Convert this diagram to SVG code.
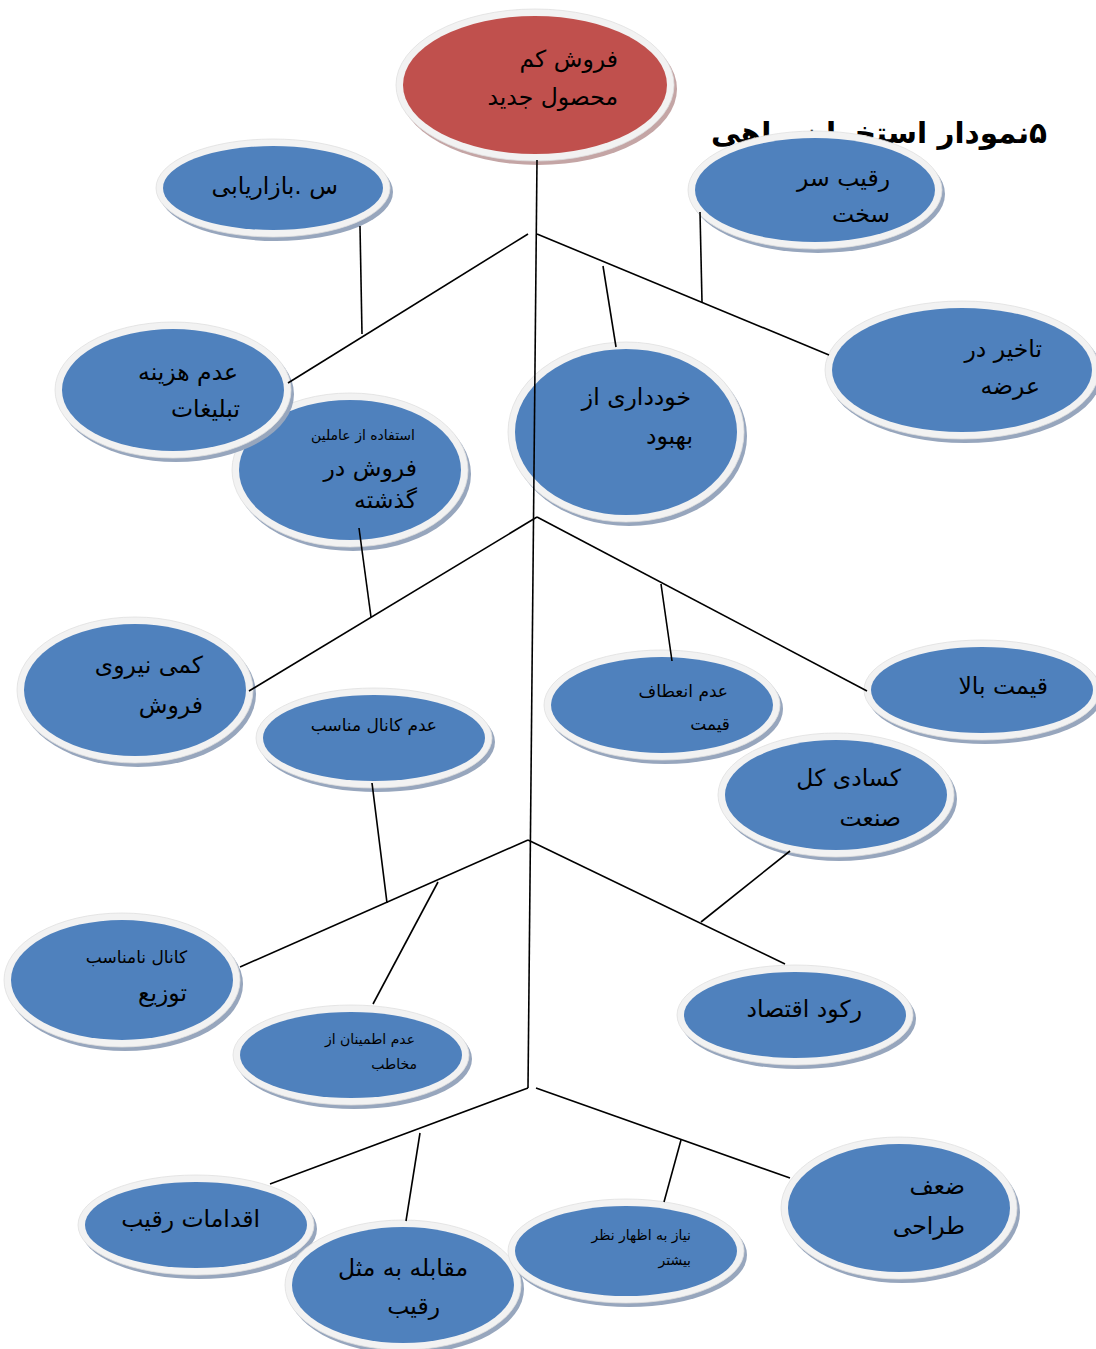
<svg xmlns="http://www.w3.org/2000/svg" width="1096" height="1349" viewBox="0 0 1096 1349">
<style>
  .sh { fill: #97a6bd; }
  .ring { fill: #f2f2f2; stroke: #e0e0e0; stroke-width: 0.8; }
  .blue { fill: #4f81bd; }
  .red { fill: #c0504d; }
  .shr { fill: #c4a5a5; }
  text { font-family: "DejaVu Sans", sans-serif; fill: #000; text-anchor: end; }
  .t22 { font-size: 23.5px; }
  .t18 { font-size: 17px; }
  .t14 { font-size: 14px; }
  .title { font-size: 29.5px; font-weight: bold; }
  .conn line { stroke: #000; stroke-width: 1.6; fill: none; }
</style>
<rect x="0" y="0" width="1096" height="1349" fill="#ffffff"/>

<g id="title">
  <text class="title" x="1047" y="143">&#x200F;&#x06F5;نمودار استخوان ماهی</text>
</g>

<g id="n-root">
  <ellipse class="shr" cx="538" cy="89" rx="139" ry="76"/>
  <ellipse class="ring" cx="535" cy="85" rx="139" ry="76"/>
  <ellipse class="red" cx="535" cy="85" rx="132" ry="69"/>
  <text class="t22" x="618" y="67">فروش کم</text>
  <text class="t22" x="618" y="105">محصول جدید</text>
</g>

<g id="n-bazaryabi">
  <ellipse class="sh" cx="276" cy="192" rx="117" ry="49"/>
  <ellipse class="ring" cx="273" cy="188" rx="117" ry="49"/>
  <ellipse class="blue" cx="273" cy="188" rx="110" ry="42"/>
  <text class="t22" x="338" y="194">س .بازاریابی</text>
</g>

<g id="n-raqib">
  <ellipse class="sh" cx="818" cy="194" rx="127" ry="59"/>
  <ellipse class="ring" cx="815" cy="190" rx="127" ry="59"/>
  <ellipse class="blue" cx="815" cy="190" rx="120" ry="52"/>
  <text class="t22" x="890" y="186">رقیب سر</text>
  <text class="t22" x="890" y="222">سخت</text>
</g>

<g id="n-estefade">
  <ellipse class="sh" cx="353" cy="474" rx="118" ry="77"/>
  <ellipse class="ring" cx="350" cy="470" rx="118" ry="77"/>
  <ellipse class="blue" cx="350" cy="470" rx="111" ry="70"/>
  <text class="t14" x="415" y="440">استفاده از عاملین</text>
  <text class="t22" x="417" y="476">فروش  در</text>
  <text class="t22" x="417" y="508">گذشته</text>
</g>

<g id="n-hazine">
  <ellipse class="sh" cx="176" cy="394" rx="118" ry="68"/>
  <ellipse class="ring" cx="173" cy="390" rx="118" ry="68"/>
  <ellipse class="blue" cx="173" cy="390" rx="111" ry="61"/>
  <text class="t22" x="238" y="380">عدم هزینه</text>
  <text class="t22" x="240" y="417">تبلیغات</text>
</g>

<g id="n-khoddari">
  <ellipse class="sh" cx="629" cy="436" rx="118" ry="90"/>
  <ellipse class="ring" cx="626" cy="432" rx="118" ry="90"/>
  <ellipse class="blue" cx="626" cy="432" rx="111" ry="83"/>
  <text class="t22" x="691" y="405">خودداری از</text>
  <text class="t22" x="693" y="444">بهبود</text>
</g>

<g id="n-takhir">
  <ellipse class="sh" cx="965" cy="374" rx="137" ry="69"/>
  <ellipse class="ring" cx="962" cy="370" rx="137" ry="69"/>
  <ellipse class="blue" cx="962" cy="370" rx="130" ry="62"/>
  <text class="t22" x="1042" y="357">تاخیر در</text>
  <text class="t22" x="1040" y="394">عرضه</text>
</g>

<g id="n-kami">
  <ellipse class="sh" cx="138" cy="694" rx="118" ry="73"/>
  <ellipse class="ring" cx="135" cy="690" rx="118" ry="73"/>
  <ellipse class="blue" cx="135" cy="690" rx="111" ry="66"/>
  <text class="t22" x="203" y="673">کمی نیروی</text>
  <text class="t22" x="203" y="713">فروش</text>
</g>

<g id="n-kanal">
  <ellipse class="sh" cx="377" cy="742" rx="118" ry="50"/>
  <ellipse class="ring" cx="374" cy="738" rx="118" ry="50"/>
  <ellipse class="blue" cx="374" cy="738" rx="111" ry="43"/>
  <text class="t18" x="437" y="731">عدم کانال مناسب</text>
</g>

<g id="n-enetaf">
  <ellipse class="sh" cx="665" cy="709" rx="118" ry="55"/>
  <ellipse class="ring" cx="662" cy="705" rx="118" ry="55"/>
  <ellipse class="blue" cx="662" cy="705" rx="111" ry="48"/>
  <text class="t18" x="728" y="697">عدم انعطاف</text>
  <text class="t18" x="730" y="730">قیمت</text>
</g>

<g id="n-gheimat">
  <ellipse class="sh" cx="985" cy="694" rx="118" ry="50"/>
  <ellipse class="ring" cx="982" cy="690" rx="118" ry="50"/>
  <ellipse class="blue" cx="982" cy="690" rx="111" ry="43"/>
  <text class="t22" x="1048" y="694">قیمت بالا</text>
</g>

<g id="n-kasadi">
  <ellipse class="sh" cx="839" cy="799" rx="118" ry="62"/>
  <ellipse class="ring" cx="836" cy="795" rx="118" ry="62"/>
  <ellipse class="blue" cx="836" cy="795" rx="111" ry="55"/>
  <text class="t22" x="901" y="786">کسادی کل</text>
  <text class="t22" x="901" y="826">صنعت</text>
</g>

<g id="n-namonaseb">
  <ellipse class="sh" cx="125" cy="984" rx="118" ry="67"/>
  <ellipse class="ring" cx="122" cy="980" rx="118" ry="67"/>
  <ellipse class="blue" cx="122" cy="980" rx="111" ry="60"/>
  <text class="t18" x="187" y="963">کانال نامناسب</text>
  <text class="t22" x="187" y="1001">توزیع</text>
</g>

<g id="n-etminan">
  <ellipse class="sh" cx="354" cy="1059" rx="118" ry="50"/>
  <ellipse class="ring" cx="351" cy="1055" rx="118" ry="50"/>
  <ellipse class="blue" cx="351" cy="1055" rx="111" ry="43"/>
  <text class="t14" x="415" y="1044">عدم اطمینان از</text>
  <text class="t14" x="417" y="1069">مخاطب</text>
</g>

<g id="n-rokud">
  <ellipse class="sh" cx="798" cy="1019" rx="118" ry="50"/>
  <ellipse class="ring" cx="795" cy="1015" rx="118" ry="50"/>
  <ellipse class="blue" cx="795" cy="1015" rx="111" ry="43"/>
  <text class="t22" x="862" y="1017">رکود اقتصاد</text>
</g>

<g id="n-eghdamat">
  <ellipse class="sh" cx="199" cy="1229" rx="118" ry="50"/>
  <ellipse class="ring" cx="196" cy="1225" rx="118" ry="50"/>
  <ellipse class="blue" cx="196" cy="1225" rx="111" ry="43"/>
  <text class="t22" x="260" y="1227">اقدامات رقیب</text>
</g>

<g id="n-moghabele">
  <ellipse class="sh" cx="406" cy="1289" rx="118" ry="65"/>
  <ellipse class="ring" cx="403" cy="1285" rx="118" ry="65"/>
  <ellipse class="blue" cx="403" cy="1285" rx="111" ry="58"/>
  <text class="t22" x="468" y="1276">مقابله به مثل</text>
  <text class="t22" x="440" y="1314">رقیب</text>
</g>

<g id="n-niaz">
  <ellipse class="sh" cx="629" cy="1255" rx="118" ry="52"/>
  <ellipse class="ring" cx="626" cy="1251" rx="118" ry="52"/>
  <ellipse class="blue" cx="626" cy="1251" rx="111" ry="45"/>
  <text class="t14" x="691" y="1240">نیاز به اظهار نظر</text>
  <text class="t14" x="691" y="1265">بیشتر</text>
</g>

<g id="n-zaf">
  <ellipse class="sh" cx="902" cy="1212" rx="118" ry="71"/>
  <ellipse class="ring" cx="899" cy="1208" rx="118" ry="71"/>
  <ellipse class="blue" cx="899" cy="1208" rx="111" ry="64"/>
  <text class="t22" x="965" y="1194">ضعف</text>
  <text class="t22" x="965" y="1234">طراحی</text>
</g>

<g id="connectors" class="conn">
  <line x1="537" y1="160" x2="528" y2="1088"/>
  <line x1="528" y1="234" x2="288" y2="383"/>
  <line x1="537" y1="234" x2="829" y2="355"/>
  <line x1="360" y1="226" x2="362" y2="334"/>
  <line x1="603" y1="266" x2="616" y2="347"/>
  <line x1="700" y1="212" x2="702" y2="302"/>
  <line x1="537" y1="517" x2="249" y2="691"/>
  <line x1="537" y1="517" x2="867" y2="691"/>
  <line x1="359" y1="528" x2="371" y2="617"/>
  <line x1="661" y1="584" x2="672" y2="661"/>
  <line x1="528" y1="840" x2="240" y2="967"/>
  <line x1="528" y1="840" x2="785" y2="964"/>
  <line x1="372" y1="783" x2="387" y2="903"/>
  <line x1="438" y1="882" x2="373" y2="1004"/>
  <line x1="790" y1="851" x2="701" y2="922"/>
  <line x1="528" y1="1088" x2="270" y2="1184"/>
  <line x1="536" y1="1088" x2="790" y2="1178"/>
  <line x1="420" y1="1133" x2="406" y2="1221"/>
  <line x1="681" y1="1140" x2="664" y2="1202"/>
</g>
</svg>
